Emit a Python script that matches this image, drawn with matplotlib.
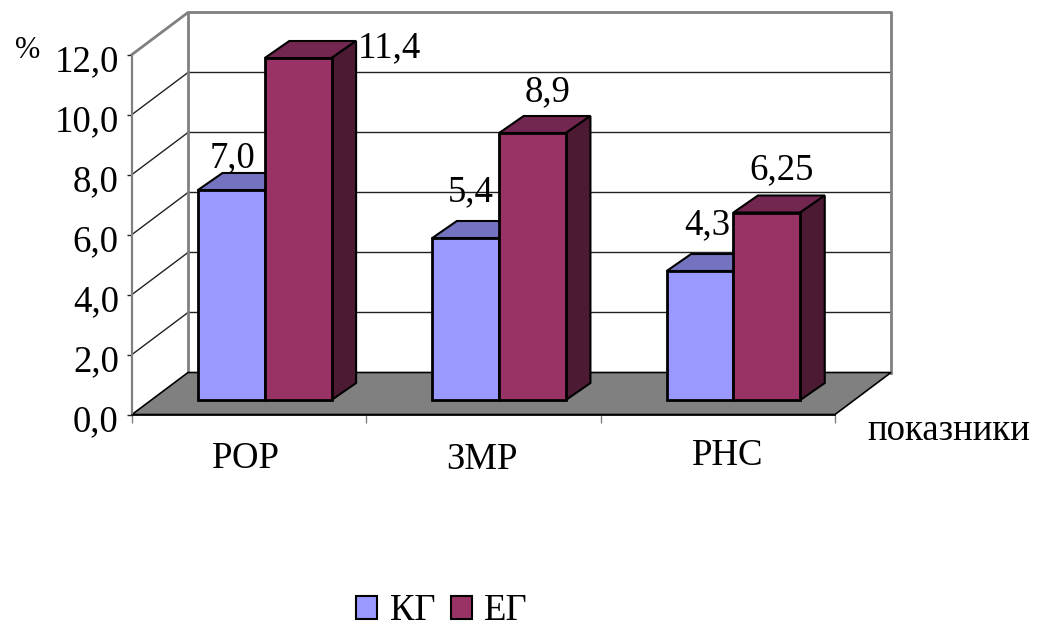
import matplotlib
matplotlib.use('Agg')
import matplotlib.pyplot as plt
from matplotlib.patches import Polygon, Patch
from matplotlib.transforms import ScaledTranslation
import numpy as np

categories = ['РОР', 'ЗМР', 'РНС']
kg_values = [7.0, 5.4, 4.3]
eg_values = [11.4, 8.9, 6.25]
kg_labels = ['7,0', '5,4', '4,3']
eg_labels = ['11,4', '8,9', '6,25']
y_ticks = [0, 2, 4, 6, 8, 10, 12]
series_names = ['КГ', 'ЕГ']

plt.rcParams['font.family'] = ['Liberation Serif', 'DejaVu Serif']

W, H = 1053, 628
KG_COLOR = '#9999FF'
EG_COLOR = '#993366'
GRAY = '#808080'
FS = 26.5

fig = plt.figure(figsize=(W / 100, H / 100), dpi=100)
# front plane of the fake 3D box: x 132..835 px, y 414.5..54.5 px
ax = fig.add_axes([132 / W, 1 - 414.5 / H, 703 / W, 360 / H])
ax.set_xlim(0, 3)
ax.set_ylim(0, 12)

px_x = 3 / 703   # data units per pixel
px_y = 12 / 360
depth_x, depth_y = 56 * px_x, 42 * px_y      # box depth
bar_dx, bar_dy = 24.5 * px_x, 17 * px_y      # bar depth
base_y = 14.5 * px_y                         # bars stand inside the floor
bar_w = 66.8 * px_x
bar_start = 66 * px_x

# back wall and left wall lines
for y in y_ticks[1:-1]:
    ax.plot([0, depth_x, 3 + depth_x], [y, y + depth_y, y + depth_y], color='#222222', lw=1, zorder=1, clip_on=False)
ax.plot([0, depth_x, 3 + depth_x], [12, 12 + depth_y, 12 + depth_y], color=GRAY, lw=2, zorder=1, clip_on=False)
ax.plot([depth_x, depth_x], [depth_y, 12 + depth_y], color=GRAY, lw=2, zorder=1, clip_on=False)
ax.plot([3 + depth_x, 3 + depth_x], [depth_y, 12 + depth_y], color=GRAY, lw=2, zorder=1, clip_on=False)

# floor
ax.add_patch(Polygon([(0, 0), (3, 0), (3 + depth_x, depth_y), (depth_x, depth_y)],
                     facecolor=GRAY, edgecolor='black', lw=1.2, zorder=2, clip_on=False))


def draw_bar(x, value, color, top_color, side_color, z):
    top = base_y + value
    ax.bar(x, value, bar_w, bottom=base_y, align='edge', color=color, edgecolor='black', linewidth=2, zorder=z, clip_on=False)
    ax.add_patch(Polygon([(x, top), (x + bar_w, top), (x + bar_w + bar_dx, top + bar_dy), (x + bar_dx, top + bar_dy)],
                         facecolor=top_color, edgecolor='black', lw=1.5, zorder=z - 0.1, clip_on=False))
    ax.add_patch(Polygon([(x + bar_w, base_y), (x + bar_w, top), (x + bar_w + bar_dx, top + bar_dy), (x + bar_w + bar_dx, base_y + bar_dy)],
                         facecolor=side_color, edgecolor='black', lw=1.5, zorder=z - 0.1, clip_on=False))


kg_offsets = [(1, 23), (5, 37), (7, 37)]
eg_offsets = [(91, 1), (15, 32), (15, 33)]

for i in range(3):
    x1 = i + bar_start
    x2 = x1 + bar_w
    draw_bar(x1, kg_values[i], KG_COLOR, '#7373BF', '#4D4D80', 3 + i)
    draw_bar(x2, eg_values[i], EG_COLOR, '#732650', '#4D1A33', 3.5 + i)
    ax.annotate(kg_labels[i], (x1 + bar_w / 2, base_y + kg_values[i]),
                xytext=(kg_offsets[i][0] * 0.72, kg_offsets[i][1] * 0.72), textcoords='offset points',
                ha='center', va='baseline', fontsize=FS, color='black', zorder=10, annotation_clip=False)
    ax.annotate(eg_labels[i], (x2 + bar_w / 2, base_y + eg_values[i]),
                xytext=(eg_offsets[i][0] * 0.72, eg_offsets[i][1] * 0.72), textcoords='offset points',
                ha='center', va='baseline', fontsize=FS, color='black', zorder=10, annotation_clip=False)

# axes
for s in ['top', 'right']:
    ax.spines[s].set_visible(False)
ax.patch.set_visible(False)
ax.spines['left'].set_color(GRAY)
ax.spines['left'].set_linewidth(1.6)
ax.spines['bottom'].set_color('black')
ax.spines['bottom'].set_linewidth(1.2)
ax.set_yticks(y_ticks)
ax.set_yticklabels([f'{v:.1f}'.replace('.', ',') for v in y_ticks], fontsize=FS)
ax.set_xticks([0, 1, 2, 3])
ax.set_xticklabels([])
ax.tick_params(axis='y', length=3.5, width=1, color='#222222', pad=6)
ax.tick_params(axis='x', length=6, width=1, color=GRAY)

# labels sit a little below their ticks in the original
shift = ScaledTranslation(0, -3 / 100, fig.dpi_scale_trans)
for lab in ax.get_yticklabels():
    lab.set_transform(lab.get_transform() + shift)

# category labels
cat_x = [246, 482, 728]
cat_y = [468, 469, 465]
for name, cx, cy in zip(categories, cat_x, cat_y):
    fig.text(cx / W, 1 - cy / H, name, ha='center', va='baseline', fontsize=FS)
fig.text(867 / W, 1 - 440 / H, 'показники', ha='left', va='baseline', fontsize=FS)
fig.text(28 / W, 1 - 58 / H, '%', ha='center', va='baseline', fontsize=22)

handles = [Patch(facecolor=KG_COLOR, edgecolor='black', linewidth=1.5),
           Patch(facecolor=EG_COLOR, edgecolor='black', linewidth=1.5)]
fig.legend(handles, series_names, loc='center', bbox_to_anchor=(442 / W, 1 - 611 / H), ncol=2,
           frameon=False, fontsize=FS, handlelength=0.57, handleheight=0.57,
           handletextpad=0.33, columnspacing=0.43, borderpad=0)

fig.savefig('out.png', dpi=100)
